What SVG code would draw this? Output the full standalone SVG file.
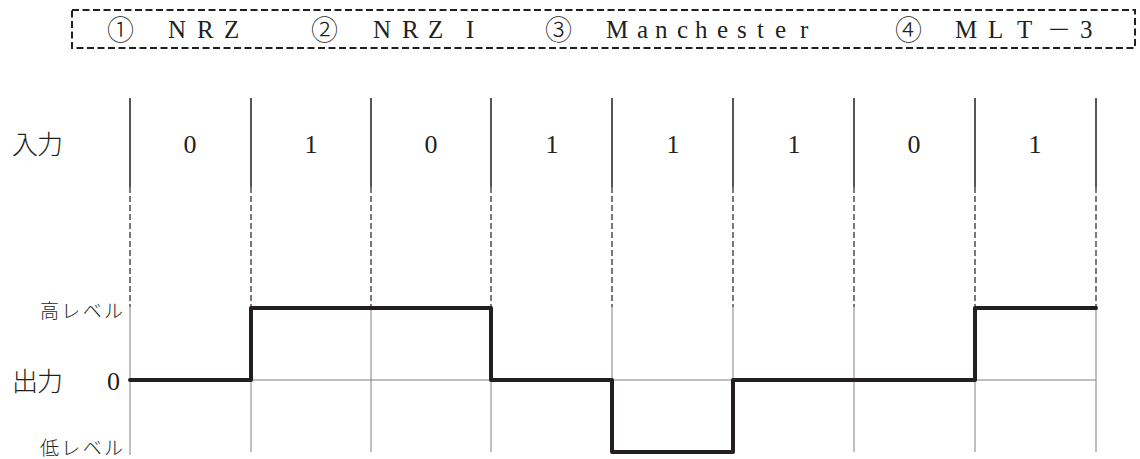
<svg xmlns="http://www.w3.org/2000/svg" width="1140" height="459" viewBox="0 0 1140 459">
<style>
.t{font-family:"Liberation Serif","Noto Serif CJK JP","Noto Sans CJK JP",serif;fill:#231f20}
.c{font-family:"Noto Sans CJK JP","DejaVu Serif",sans-serif;fill:#231f20;font-weight:300}
.j{font-family:"Noto Sans CJK JP","Noto Sans CJK SC",sans-serif;fill:#231f20;font-weight:300}
.solid{stroke:#231f20;stroke-width:1.5;fill:none}
.dash{stroke:#231f20;stroke-width:1.2;stroke-dasharray:6 3;fill:none}
.grid{stroke:#808080;stroke-width:1;fill:none}
.wave{stroke:#231f20;stroke-width:4;fill:none;stroke-linejoin:round;stroke-linecap:round}
</style>
<g id="legend">
<rect x="72" y="10" width="1063" height="38" fill="none" stroke="#231f20" stroke-width="2" stroke-dasharray="7 3.5"/>
<text class="c" x="107" y="40" font-size="27" textLength="26">①</text>
<text class="t" x="168 197 224" y="38" font-size="25">NRZ</text>
<text class="c" x="311" y="40" font-size="27" textLength="26">②</text>
<text class="t" x="373 402 428 466" y="38" font-size="25">NRZI</text>
<text class="c" x="545" y="40" font-size="27" textLength="27">③</text>
<text class="t" x="606 637 655 677 695 717 737 757 775 800" y="38" font-size="25">Manchester</text>
<text class="c" x="895" y="40" font-size="27" textLength="27">④</text>
<text class="t" x="955 988 1017" y="38" font-size="25">MLT</text>
<text class="j" x="1047" y="38" font-size="24" textLength="26">－</text>
<text class="t" x="1080" y="38" font-size="25">3</text>
</g>
<g id="labels">
<text class="j" x="12" y="154" font-size="26" textLength="51">入力</text>
<text class="j" x="12" y="391" font-size="26" textLength="51">出力</text>
<text class="t" x="107" y="390" font-size="26">0</text>
<text class="j" x="40" y="318" font-size="19" textLength="83">高レベル</text>
<text class="j" x="40" y="455" font-size="19" textLength="83">低レベル</text>
</g>
<g id="inputs" class="t" font-size="26" text-anchor="middle">
<text x="190" y="153">0</text>
<text x="311" y="153">1</text>
<text x="431" y="153">0</text>
<text x="552" y="153">1</text>
<text x="673" y="153">1</text>
<text x="794" y="153">1</text>
<text x="914" y="153">0</text>
<text x="1035" y="153">1</text>
</g>
<g id="connectors">
<path class="solid" d="M130 98V187M251 98V187M371 98V187M491 98V187M612 98V187M733 98V187M854 98V187M975 98V187M1096 98V187"/>
<path class="dash" d="M130 187V307M251 187V307M371 187V307M491 187V307M612 187V307M733 187V307M854 187V307M975 187V307M1096 187V307"/>
<path class="grid" d="M130 307V455M251 307V452M371 307V452M491 307V452M612 307V452M733 307V452M854 307V452M975 307V452M1096 307V452M130 380H1096"/>
<path class="wave" d="M130 380H251V308H491V380H612V452H733V380H975V308H1096"/>
</g>
</svg>
